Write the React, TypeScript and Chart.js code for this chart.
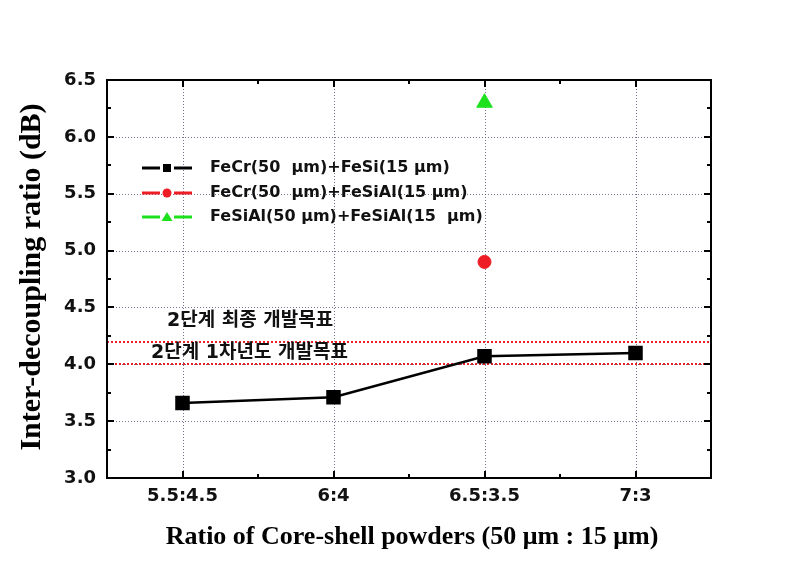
import React, { useEffect, useRef } from "react";
import { Chart, registerables } from "chart.js";

Chart.register(...registerables);

const categories = ["5.5:4.5", "6:4", "6.5:3.5", "7:3"];
const fecrFesi = [3.66, 3.71, 4.07, 4.1];
const fecrFesial = [null, null, 4.9, null];
const fesialFesial = [null, null, 6.3, null];
const seriesLabels = [
  "FeCr(50  μm)+FeSi(15 μm)",
  "FeCr(50  μm)+FeSiAl(15 μm)",
  "FeSiAl(50 μm)+FeSiAl(15  μm)",
];
const targetValues = [4.2, 4.0];
const targetLabels = ["2단계 최종 개발목표", "2단계 1차년도 개발목표"];
const yMin = 3.0;
const yMax = 6.5;
const yStep = 0.5;
const xTitle = "Ratio of Core-shell powders (50 μm : 15 μm)";
const yTitle = "Inter-decoupling ratio (dB)";

const SANS = '"DejaVu Sans", "Noto Sans CJK KR", sans-serif';
const SERIF = '"Liberation Serif", "Times New Roman", serif';

const framePlugin = {
  id: "framePlugin",
  beforeDatasetsDraw(chart: any) {
    const { ctx, chartArea: a, scales } = chart;
    const x = scales.x;
    const y = scales.y;
    ctx.save();
    // dotted grid
    ctx.strokeStyle = "rgba(70,70,110,0.75)";
    ctx.lineWidth = 1;
    ctx.setLineDash([1, 2]);
    for (let v = yMin + yStep; v < yMax - 1e-9; v += yStep) {
      const py = Math.round(y.getPixelForValue(v)) + 0.5;
      ctx.beginPath();
      ctx.moveTo(a.left, py);
      ctx.lineTo(a.right, py);
      ctx.stroke();
    }
    categories.forEach((_, i) => {
      const px = Math.round(x.getPixelForValue(i)) + 0.5;
      ctx.beginPath();
      ctx.moveTo(px, a.top);
      ctx.lineTo(px, a.bottom);
      ctx.stroke();
    });
    // target lines
    ctx.strokeStyle = "#e8202a";
    ctx.lineWidth = 2;
    ctx.setLineDash([2, 2]);
    targetValues.forEach((v) => {
      const py = Math.round(y.getPixelForValue(v));
      ctx.beginPath();
      ctx.moveTo(a.left, py);
      ctx.lineTo(a.right, py);
      ctx.stroke();
    });
    ctx.setLineDash([]);
    // frame
    ctx.strokeStyle = "#000";
    ctx.lineWidth = 2;
    ctx.strokeRect(a.left, a.top, a.right - a.left, a.bottom - a.top);
    // ticks
    ctx.lineWidth = 2;
    for (let v = yMin; v <= yMax + 1e-9; v += yStep / 2) {
      const major = Math.abs((v - yMin) / yStep - Math.round((v - yMin) / yStep)) < 1e-6;
      const len = major ? 7 : 4;
      const py = Math.round(y.getPixelForValue(v));
      ctx.beginPath();
      ctx.moveTo(a.left, py);
      ctx.lineTo(a.left + len, py);
      ctx.moveTo(a.right, py);
      ctx.lineTo(a.right - len, py);
      ctx.stroke();
    }
    for (let i = -0.5; i <= categories.length - 0.5 + 1e-9; i += 0.5) {
      const major = Math.abs(i - Math.round(i)) < 1e-6;
      const len = major ? 7 : 4;
      const px = Math.round(x.getPixelForValue(i));
      ctx.beginPath();
      ctx.moveTo(px, a.bottom);
      ctx.lineTo(px, a.bottom - len);
      ctx.moveTo(px, a.top);
      ctx.lineTo(px, a.top + len);
      ctx.stroke();
    }
    ctx.restore();
  },
  afterDatasetsDraw(chart: any) {
    const { ctx, chartArea: a, scales } = chart;
    const y = scales.y;
    ctx.save();
    // target labels
    ctx.fillStyle = "#111";
    ctx.font = `bold 19px ${SANS}`;
    ctx.textBaseline = "middle";
    ctx.textAlign = "left";
    const labelX = [167, 151];
    const labelOff = [20, 11];
    targetLabels.forEach((t, i) => {
      ctx.fillText(t, labelX[i], y.getPixelForValue(targetValues[i]) - labelOff[i]);
    });
    // legend
    const ds = chart.data.datasets;
    ctx.font = `bold 16px ${SANS}`;
    const rows = [168, 193, 217];
    ds.forEach((d: any, i: number) => {
      const ry = rows[i];
      ctx.strokeStyle = d.borderColor;
      ctx.lineWidth = 3;
      ctx.beginPath();
      ctx.moveTo(142, ry);
      ctx.lineTo(160, ry);
      ctx.moveTo(174, ry);
      ctx.lineTo(192, ry);
      ctx.stroke();
      ctx.fillStyle = d.backgroundColor;
      ctx.beginPath();
      if (d.pointStyle === "rect") {
        ctx.rect(163, ry - 4, 8, 8);
      } else if (d.pointStyle === "circle") {
        ctx.arc(167, ry, 4.5, 0, Math.PI * 2);
      } else {
        ctx.moveTo(167, ry - 5);
        ctx.lineTo(172.5, ry + 4);
        ctx.lineTo(161.5, ry + 4);
        ctx.closePath();
      }
      ctx.fill();
      ctx.fillStyle = "#111";
      ctx.fillText(d.label, 210, ry);
    });
    // axis titles
    ctx.fillStyle = "#000";
    ctx.font = `bold 26px ${SERIF}`;
    ctx.textAlign = "center";
    ctx.fillText(xTitle, 412, 537);
    ctx.font = `bold 30px ${SERIF}`;
    ctx.translate(32, 277);
    ctx.rotate(-Math.PI / 2);
    ctx.fillText(yTitle, 0, 0);
    ctx.restore();
  },
};

export default function App() {
  const ref = useRef<HTMLCanvasElement | null>(null);
  useEffect(() => {
    document.body.style.margin = "0";
    const chart = new Chart(ref.current as HTMLCanvasElement, {
      type: "line",
      data: {
        labels: categories,
        datasets: [
          {
            label: seriesLabels[0],
            data: fecrFesi,
            borderColor: "#000",
            backgroundColor: "#000",
            borderWidth: 2.5,
            pointStyle: "rect",
            pointRadius: 8.5,
            pointHoverRadius: 8.5,
            showLine: true,
          },
          {
            label: seriesLabels[1],
            data: fecrFesial,
            borderColor: "#ee1c24",
            backgroundColor: "#ee1c24",
            pointStyle: "circle",
            pointRadius: 6.5,
            showLine: false,
          },
          {
            label: seriesLabels[2],
            data: fesialFesial,
            borderColor: "#1ee11e",
            backgroundColor: "#1ee11e",
            pointStyle: "triangle",
            pointRadius: 9,
            showLine: false,
          },
        ],
      },
      options: {
        responsive: false,
        animation: false,
        layout: { padding: { left: 0, top: 80, right: 87, bottom: 0 } },
        plugins: { legend: { display: false }, tooltip: { enabled: false } },
        scales: {
          x: {
            type: "category",
            offset: true,
            grid: { display: false, drawTicks: false },
            border: { display: false },
            ticks: {
              color: "#111",
              font: { family: SANS, size: 18, weight: "bold" },
              padding: 8,
              maxRotation: 0,
            },
            afterFit: (s: any) => {
              s.height = 107;
            },
          },
          y: {
            min: yMin,
            max: yMax,
            grid: { display: false, drawTicks: false },
            border: { display: false },
            ticks: {
              stepSize: yStep,
              color: "#111",
              font: { family: SANS, size: 18, weight: "bold" },
              padding: 11,
              callback: (v: any) => Number(v).toFixed(1),
            },
            afterFit: (s: any) => {
              s.width = 107;
            },
          },
        },
      },
      plugins: [framePlugin],
    } as any);
    return () => chart.destroy();
  }, []);
  return <canvas ref={ref} width={798} height={585} style={{ display: "block" }} />;
}
